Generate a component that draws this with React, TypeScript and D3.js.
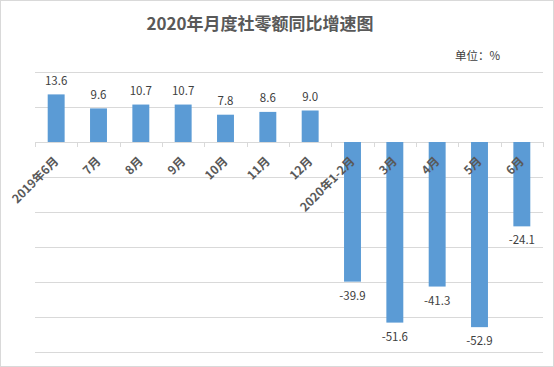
import React from "react";
import * as d3 from "d3";

const categories = ["2019年6月", "7月", "8月", "9月", "10月", "11月", "12月", "2020年1-2月", "3月", "4月", "5月", "6月"];
const values = [13.6, 9.6, 10.7, 10.7, 7.8, 8.6, 9.0, -39.9, -51.6, -41.3, -52.9, -24.1];
const yTicks = [20, 10, 0, -10, -20, -30, -40, -50, -60];
const title = "2020年月度社零额同比增速图";
const unitLabel = "单位：%";

const W = 554;
const H = 367;
const FONT = "'Noto Sans CJK SC', 'Microsoft YaHei', sans-serif";

export default function App() {
  const x = d3.scaleBand<string>().domain(categories).range([35, 543]).paddingInner(0.6).paddingOuter(0.3);
  const xb = d3.scaleBand<string>().domain(categories).range([35, 543]);
  const y = d3.scaleLinear().domain([-60, 20]).range([352, 72]);
  const y0 = y(0);

  return (
    <svg width={W} height={H} style={{ position: "absolute", left: 0, top: 0, fontFamily: FONT }}>
      <rect x={0.5} y={0.5} width={W - 1} height={H - 1} fill="#fff" stroke="#d9d9d9" />
      <text x={260} y={30} textAnchor="middle" fontSize={17} fontWeight="bold" fill="#595959">{title}</text>
      <text x={500} y={60} textAnchor="end" fontSize={11.5} fill="#404040">{unitLabel}</text>
      {yTicks.map((t) => (
        <line key={t} x1={35} x2={543} y1={Math.round(y(t)) + 0.5} y2={Math.round(y(t)) + 0.5} stroke="#d9d9d9" />
      ))}
      {categories.map((c, i) => {
        const v = values[i];
        const bx = x(c)!;
        const top = v >= 0 ? y(v) : y0;
        const h = Math.abs(y(v) - y0);
        const cx = bx + x.bandwidth() / 2;
        return (
          <g key={c}>
            <rect x={bx} y={top} width={x.bandwidth()} height={h} fill="#5b9bd5" />
            <text x={cx} y={v >= 0 ? y(v) - 9.5 : y(v) + 18} textAnchor="middle" fontSize={11.5} fill="#404040">
              {v.toFixed(1)}
            </text>
          </g>
        );
      })}
      {categories.map((c, i) => (
        <line key={"tk" + i} x1={Math.round(xb(c)!) + 0.5} x2={Math.round(xb(c)!) + 0.5} y1={y0} y2={y0 + 5} stroke="#d9d9d9" />
      ))}
      <line x1={543.5} x2={543.5} y1={y0} y2={y0 + 5} stroke="#d9d9d9" />
      {categories.map((c) => {
        const cx = xb(c)! + xb.bandwidth() / 2;
        return (
          <text
            key={"lb" + c}
            transform={`translate(${cx + 3},${y0 + 20}) rotate(-45)`}
            textAnchor="end"
            fontSize={12}
            fontWeight="bold"
            fill="#595959"
          >
            {c}
          </text>
        );
      })}
    </svg>
  );
}
